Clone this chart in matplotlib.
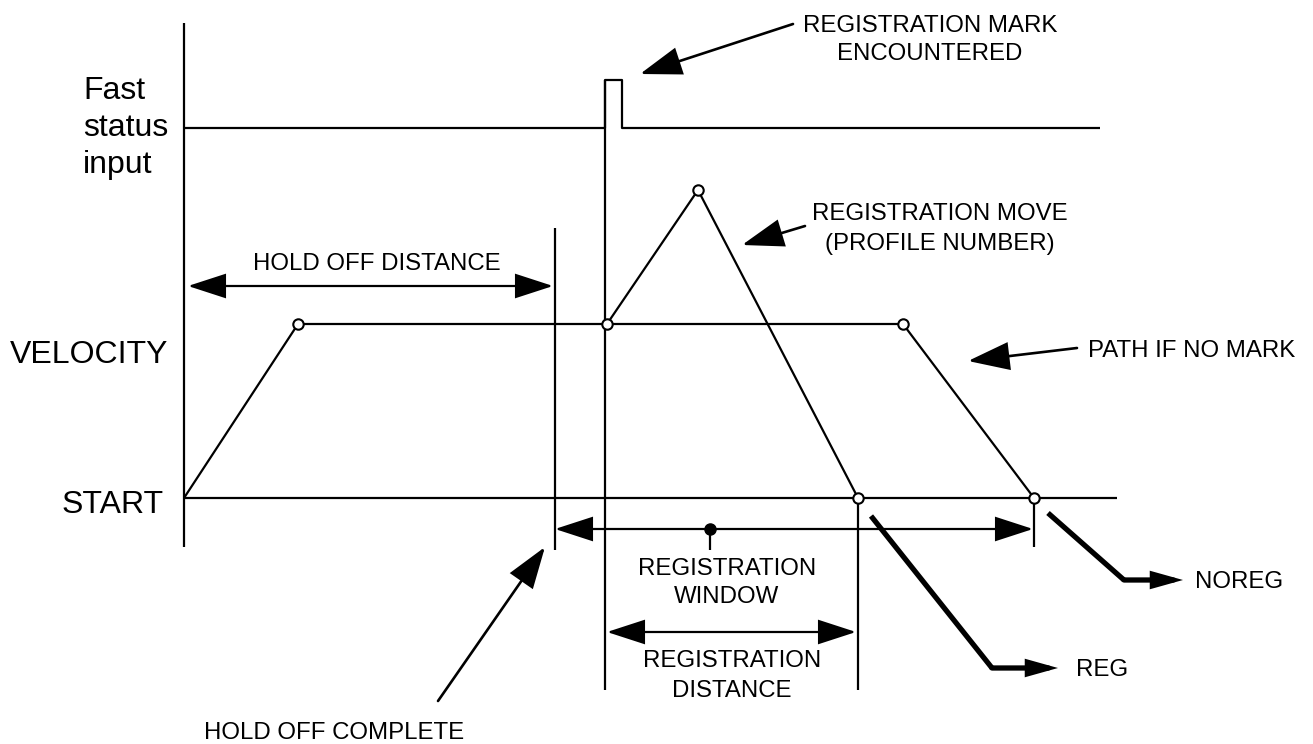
import matplotlib
matplotlib.use("Agg")
import matplotlib.pyplot as plt

plt.rcParams['font.family'] = ['Liberation Sans', 'DejaVu Sans']

# ---- diagram data (pixel space of the original drawing, y downward) ----
axis_x = [184, 184]; axis_y = [23, 547]
fast_x = [184, 605, 605, 622, 622, 1100]
fast_y = [128, 128, 80, 80, 128, 128]
start_x = [184, 1117]; start_y = [498, 498]
velocity_x = [184, 298, 903, 1034]
velocity_y = [498, 324, 324, 498]
regmove_x = [607, 698, 858]
regmove_y = [324, 190, 498]
circle_x = [298, 607, 903, 1034, 858, 698]
circle_y = [324, 324, 324, 498, 498, 190]
holdoff_x = [555, 555]; holdoff_y = [228, 550]
regmark_x = [605, 605]; regmark_y = [80, 690]
regdist_x = [858, 858]; regdist_y = [498, 690]
window_end_x = [1034, 1034]; window_end_y = [498, 547]
window_dot = (710, 529); window_tick_y = [529, 550]
reg_path_x = [871, 992]; reg_path_y = [516, 668]
reg_arrow = ((992, 668), (1058, 668))
noreg_path_x = [1048, 1124]; noreg_path_y = [513, 580]
noreg_arrow = ((1124, 580), (1183, 580))
holdoff_dist = ((188, 286), (553, 286))
window_dist = ((555, 529), (1033, 529))
reg_dist = ((607, 632), (856, 632))
pointer_arrows = [((793, 24), (640, 74)),
                  ((805, 226), (742, 245)),
                  ((1077, 348), (968, 361)),
                  ((438, 701), (545, 547))]

big_labels = [("Fast", 83, 99, 'left'), ("status", 83, 136, 'left'), ("input", 83, 173, 'left'),
              ("VELOCITY", 168, 363, 'right'), ("START", 164, 513, 'right')]
small_labels = [("REGISTRATION MARK", 930, 32, 'center'), ("ENCOUNTERED", 930, 60, 'center'),
                ("HOLD OFF DISTANCE", 377, 270, 'center'),
                ("REGISTRATION MOVE", 940, 220, 'center'), ("(PROFILE NUMBER)", 940, 250, 'center'),
                ("PATH IF NO MARK", 1088, 357, 'left'),
                ("REGISTRATION", 727, 575, 'center'), ("WINDOW", 727, 603, 'center'),
                ("REGISTRATION", 732, 667, 'center'), ("DISTANCE", 732, 697, 'center'),
                ("REG", 1076, 676, 'left'), ("NOREG", 1195, 588, 'left'),
                ("HOLD OFF COMPLETE", 334, 739, 'center')]

fig = plt.figure(figsize=(13.13, 7.44), dpi=100)
ax = fig.add_axes([0, 0, 1, 1])
ax.set_xlim(0, 1313)
ax.set_ylim(744, 0)
ax.axis('off')

LW = 1.6
for xs, ys in [(axis_x, axis_y), (fast_x, fast_y), (start_x, start_y), (velocity_x, velocity_y),
               (regmove_x, regmove_y), (holdoff_x, holdoff_y), (regmark_x, regmark_y),
               (regdist_x, regdist_y), (window_end_x, window_end_y),
               ([window_dot[0]] * 2, window_tick_y)]:
    ax.plot(xs, ys, color='black', lw=LW, solid_capstyle='butt', zorder=2)

ax.plot(reg_path_x, reg_path_y, color='black', lw=3.8, solid_capstyle='butt', zorder=2)
ax.plot(noreg_path_x, noreg_path_y, color='black', lw=3.8, solid_capstyle='butt', zorder=2)


def arrow(a, b, style='-|>', hl=24, hw=7.5, lw=LW):
    ax.annotate('', xy=b, xytext=a,
                arrowprops=dict(arrowstyle=f'{style},head_length={hl},head_width={hw}',
                                mutation_scale=1, lw=lw, color='black',
                                shrinkA=0, shrinkB=0, joinstyle='miter'), zorder=3)


for a, b in [reg_arrow, noreg_arrow]:
    arrow(a, b, hl=15, hw=4.2, lw=3.8)
for a, b in [holdoff_dist, window_dist, reg_dist]:
    arrow(a, b, style='<|-|>', hl=24, hw=7.8)
for a, b in pointer_arrows:
    arrow(a, b, hl=26, hw=8.8, lw=1.9)

ax.plot(circle_x, circle_y, 'o', ms=7.5, mfc='white', mec='black', mew=1.5, zorder=4, linestyle='none')
ax.plot([window_dot[0]], [window_dot[1]], 'o', ms=8, color='black', zorder=4)

for s, x, y, ha in big_labels:
    ax.text(x, y, s, fontsize=23, ha=ha, va='baseline', color='black')
for s, x, y, ha in small_labels:
    ax.text(x, y, s, fontsize=17.3, ha=ha, va='baseline', color='black')

fig.savefig('out.png', dpi=100, facecolor='white')
